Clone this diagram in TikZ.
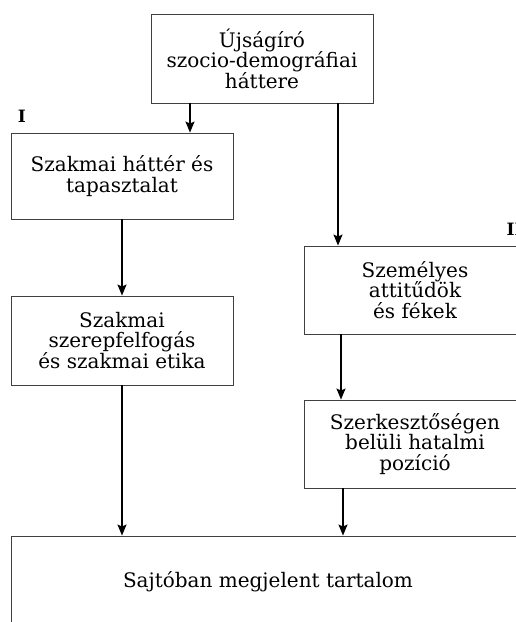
\documentclass[tikz,border=0pt]{standalone}
\usepackage{fontspec}
\setmainfont{DejaVu Serif}
\usetikzlibrary{arrows.meta}
\tikzset{
  doboz/.style={draw=black!75, line width=0.9pt, minimum width=222pt, minimum height=88pt,
    align=center, inner sep=0pt, font=\fontsize{20}{20.5}\selectfont},
  nyil/.style={line width=1.4pt, -{Stealth[length=11pt,width=9pt,inset=2pt]}},
  cimke/.style={font=\fontsize{17}{18}\selectfont\bfseries, inner sep=0pt, anchor=base west}
}
\begin{document}
\begin{tikzpicture}[x=1pt,y=-1pt]
\useasboundingbox (0,0) rectangle (516,622);
% dobozok
\node[doboz, minimum height=89pt] (hatter) at (262,58.5) {Újságíró\\szocio-demográfiai\\háttere};
\node[doboz, minimum height=86pt] (tapaszt) at (122,176) {Szakmai háttér és\\tapasztalat};
\node[doboz, minimum height=89pt] (etika) at (122,340.5) {Szakmai\\szerepfelfogás\\és szakmai etika};
\node[doboz] (attit) at (415,290) {Személyes\\attitűdök\\és fékek};
\node[doboz] (hatalom) at (415,444) {Szerkesztőségen\\belüli hatalmi\\pozíció};
\node[doboz, minimum width=514pt, minimum height=92pt] (tartalom) at (268,582) {Sajtóban megjelent tartalom};
% cimkek
\node[cimke] (egy) at ([xshift=7pt,yshift=10pt]tapaszt.north west) {I};
\node[cimke] (ketto) at ([xshift=-20pt,yshift=10pt]attit.north east) {II};
% nyilak
\draw[nyil] ([xshift=-72pt]hatter.south) -- ([xshift=-72pt]hatter.south |- tapaszt.north);
\draw[nyil] ([xshift=76pt]hatter.south) -- ([xshift=76pt]hatter.south |- attit.north);
\draw[nyil] (tapaszt.south) -- (etika.north);
\draw[nyil] (etika.south) -- (etika.south |- tartalom.north);
\draw[nyil] ([xshift=-74pt]attit.south) -- ([xshift=-74pt]attit.south |- hatalom.north);
\draw[nyil] ([xshift=-72pt]hatalom.south) -- ([xshift=-72pt]hatalom.south |- tartalom.north);
\end{tikzpicture}
\end{document}
